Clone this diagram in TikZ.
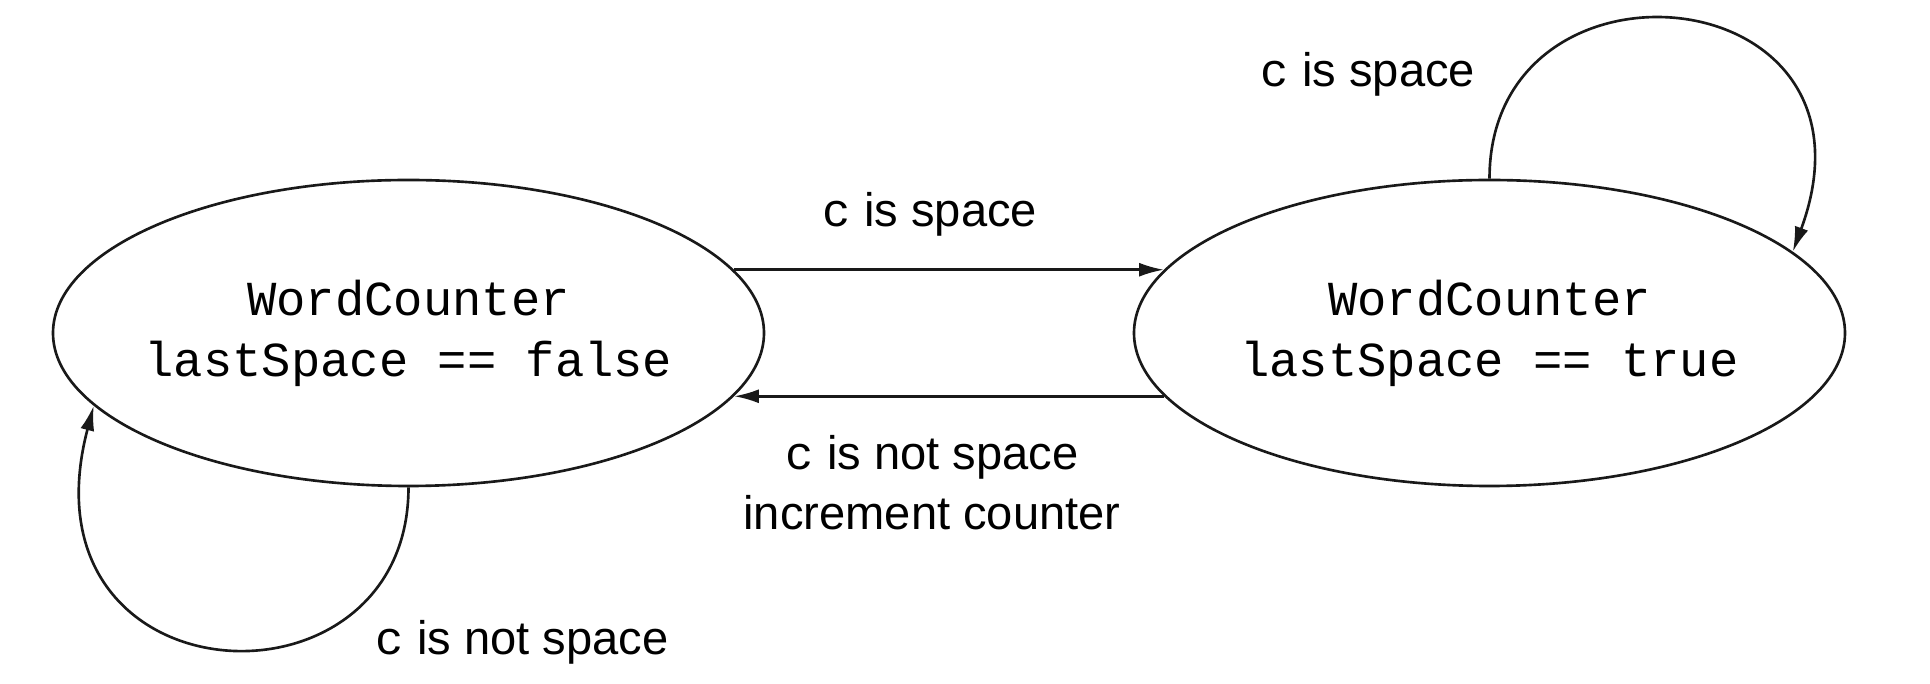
\documentclass[tikz,border=0pt]{standalone}
\usepackage{fontspec}
\setmainfont{Liberation Sans}
\setmonofont{Liberation Mono}
\usetikzlibrary{shapes.geometric,arrows.meta}
\tikzset{
  state/.style={ellipse, draw=black!90, line width=0.75pt, fill=white,
    minimum width=7.11cm, minimum height=3.06cm, inner sep=0pt},
  statetext/.style={align=center, inner sep=0pt,
    font=\fontsize{13.9pt}{17.35pt}\selectfont\ttfamily},
  arr/.style={line width=0.75pt, draw=black!90, -{Latex[length=0.25cm,width=0.14cm]}},
  lbl/.style={anchor=base, align=center, font=\fontsize{13.4pt}{17.07pt}\selectfont, inner sep=0pt}
}
\newcommand{\cc}{{\ttfamily c}}
\begin{document}
\begin{tikzpicture}
\useasboundingbox (0,0) rectangle (19.3,6.84);
\node[state] (L) at (4.085,3.51) {};
\node[statetext] (Lt) at (L.center) {WordCounter\\lastSpace == false};
\node[state] (R) at (14.895,3.51) {};
\node[statetext] (Rt) at (R.center) {WordCounter\\lastSpace == true};

\draw[arr] (L.11.6) -- (L.11.6 -| R.169);
\draw[arr] (R.191) -- (R.191 -| L.-11);

\draw[arr] (R.north) .. controls (14.895,7.45) and (18.95,7.1) .. (R.15);
\draw[arr] (L.south) .. controls (4.085,-0.4) and (0.15,-0.2) .. (L.193.6);

\node[lbl] (t1) at (9.30,4.57) {\cc{} is space};
\node[lbl] (t2) at (9.32,1.54) {\cc{} is not space\\increment counter};
\node[lbl] (t3) at (13.68,5.97) {\cc{} is space};
\node[lbl] (t4) at (5.22,0.29) {\cc{} is not space};
\end{tikzpicture}
\end{document}
